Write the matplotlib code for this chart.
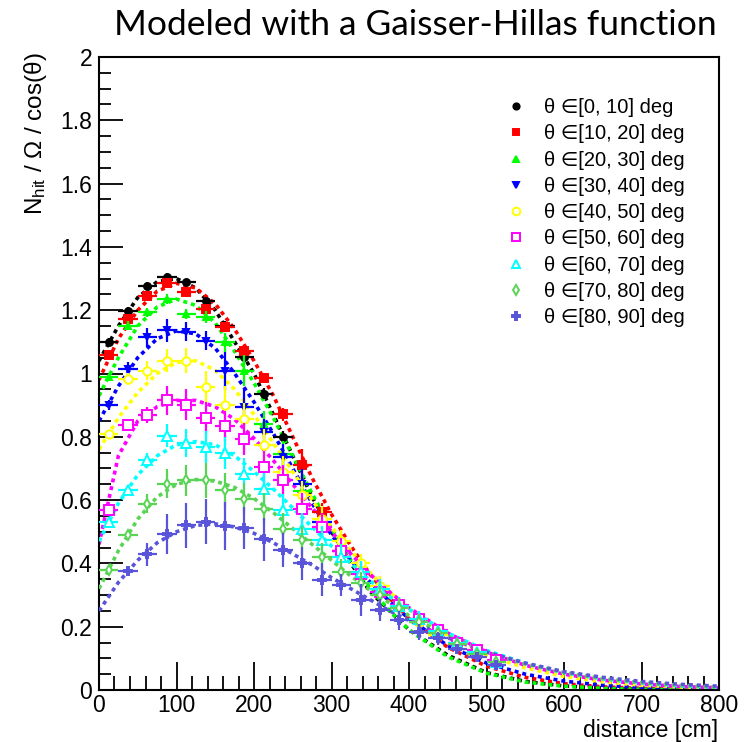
import numpy as np
import matplotlib
matplotlib.use("Agg")
import matplotlib.pyplot as plt
from matplotlib.lines import Line2D

plt.rcParams["font.family"] = ["Liberation Sans", "DejaVu Sans"]
plt.rcParams["mathtext.default"] = "regular"

# ---- measured points (bin centres in cm, 25 cm bins) ----
bin_centers = [12.5, 37.5, 62.5, 87.5, 112.5, 137.5, 162.5, 187.5, 212.5, 237.5, 262.5,
               287.5, 312.5, 337.5, 362.5, 387.5, 412.5, 437.5, 462.5, 487.5, 512.5]
nan = np.nan

y_00_10 = [1.10, 1.199, 1.278, 1.304, 1.288, 1.228, 1.151, 1.051, 0.936, 0.799]
e_00_10 = [0.012, 0.012, 0.012, 0.012, 0.012, 0.012, 0.015, 0.015, 0.018, 0.02]

y_10_20 = [1.06, 1.172, 1.246, 1.285, 1.257, 1.204, 1.146, 1.072, 0.985, 0.871, 0.71, 0.5625]
e_10_20 = [0.015, 0.015, 0.015, 0.015, 0.015, 0.015, 0.015, 0.015, 0.015, 0.02, 0.05, 0.027]

y_20_30 = [0.988, 1.151, 1.193, 1.236, 1.188, 1.178, 1.099, 1.009, 0.841, 0.747, 0.63]
e_20_30 = [0.012, 0.015, 0.015, 0.015, 0.015, 0.02, 0.03, 0.05, 0.04, 0.04, 0.04]

y_30_40 = [0.90, 1.015, 1.115, 1.136, 1.132, 1.104, 1.009, 0.894, 0.815, 0.736, 0.652, 0.531, 0.44]
e_30_40 = [0.015, 0.02, 0.03, 0.035, 0.03, 0.03, 0.06, 0.06, 0.04, 0.04, 0.045, 0.04, 0.035]

y_40_50 = [0.81, 0.983, 1.009, 1.041, 1.041, 0.957, 0.899, 0.857, 0.775, 0.688, 0.615,
           0.54, 0.47, 0.40, 0.33, 0.265, 0.215, 0.175, 0.145, 0.115, 0.09]
e_40_50 = [0.01, 0.02, 0.03, 0.035, 0.04, 0.05, 0.06, 0.05, 0.05, 0.05, 0.045,
           0.04, 0.035, 0.03, 0.03, 0.025, 0.02, 0.015, 0.012, 0.01, 0.01]

y_50_60 = [0.568, 0.836, 0.868, 0.915, 0.902, 0.86, 0.833, 0.794, 0.704, 0.662, 0.573,
           0.515, 0.44, 0.368, 0.31, 0.27, 0.225, 0.19, 0.15, 0.125, 0.095]
e_50_60 = [0.01, 0.015, 0.025, 0.045, 0.05, 0.05, 0.05, 0.05, 0.05, 0.05, 0.05,
           0.045, 0.04, 0.035, 0.03, 0.025, 0.02, 0.015, 0.012, 0.01, 0.01]

y_60_70 = [0.53, 0.631, 0.728, 0.804, 0.78, 0.768, 0.749, 0.683, 0.636, 0.568, 0.51,
           0.473, 0.42, 0.373, 0.32, 0.265, 0.225, 0.185, 0.15, 0.12, 0.09]
e_60_70 = [0.01, 0.012, 0.02, 0.035, 0.045, 0.05, 0.05, 0.05, 0.05, 0.05, 0.05,
           0.045, 0.04, 0.035, 0.03, 0.03, 0.025, 0.02, 0.015, 0.012, 0.01]

y_70_80 = [0.379, 0.49, 0.589, 0.652, 0.662, 0.662, 0.631, 0.605, 0.573, 0.51, 0.473,
           0.42, 0.373, 0.337, 0.30, 0.26, 0.215, 0.18, 0.145, 0.115, 0.09]
e_70_80 = [0.01, 0.012, 0.03, 0.045, 0.05, 0.055, 0.055, 0.05, 0.05, 0.05, 0.045,
           0.045, 0.04, 0.035, 0.03, 0.03, 0.025, 0.02, 0.015, 0.012, 0.01]

y_80_90 = [nan, 0.376, 0.429, 0.494, 0.52, 0.531, 0.517, 0.513, 0.476, 0.442, 0.40,
           0.349, 0.331, 0.284, 0.252, 0.221, 0.184, 0.163, 0.131, 0.105, 0.079]
e_80_90 = [0, 0.01, 0.037, 0.063, 0.07, 0.071, 0.076, 0.066, 0.068, 0.053, 0.053,
           0.053, 0.034, 0.05, 0.035, 0.03, 0.025, 0.02, 0.015, 0.012, 0.01]

# ---- Gaisser-Hillas fit curves ----
curve_x = [0, 25, 50, 75, 100, 125, 150, 175, 200, 225, 250, 275, 300, 325, 350, 375, 400,
           450, 500, 550, 600, 650, 700, 750, 800]
fit_00_10 = [1.04, 1.15, 1.24, 1.29, 1.30, 1.27, 1.20, 1.10, 1.00, 0.87, 0.74, 0.61, 0.50,
             0.40, 0.31, 0.25, 0.19, 0.11, 0.055, 0.027, 0.013, 0.006, 0.003, 0.001, 0.0]
fit_10_20 = [0.98, 1.11, 1.20, 1.26, 1.285, 1.27, 1.22, 1.14, 1.04, 0.93, 0.80, 0.67, 0.555,
             0.455, 0.365, 0.29, 0.225, 0.135, 0.075, 0.04, 0.02, 0.01, 0.005, 0.002, 0.001]
fit_20_30 = [0.93, 1.05, 1.15, 1.21, 1.235, 1.215, 1.16, 1.07, 0.97, 0.86, 0.74, 0.62, 0.51,
             0.41, 0.32, 0.25, 0.19, 0.105, 0.053, 0.025, 0.012, 0.005, 0.002, 0.001, 0.0]
fit_30_40 = [0.85, 0.96, 1.05, 1.11, 1.135, 1.125, 1.08, 1.00, 0.91, 0.81, 0.70, 0.59, 0.49,
             0.41, 0.34, 0.28, 0.225, 0.14, 0.085, 0.05, 0.028, 0.015, 0.008, 0.004, 0.002]
fit_40_50 = [0.76, 0.86, 0.94, 1.00, 1.035, 1.04, 1.01, 0.95, 0.87, 0.78, 0.69, 0.60, 0.515,
             0.44, 0.37, 0.31, 0.255, 0.17, 0.11, 0.07, 0.043, 0.026, 0.015, 0.009, 0.005]
fit_50_60 = [0.46, 0.74, 0.85, 0.895, 0.915, 0.915, 0.895, 0.855, 0.795, 0.725, 0.65, 0.575,
             0.50, 0.43, 0.365, 0.31, 0.26, 0.18, 0.12, 0.078, 0.05, 0.031, 0.019, 0.011, 0.007]
fit_60_70 = [0.47, 0.59, 0.68, 0.74, 0.775, 0.785, 0.775, 0.74, 0.69, 0.635, 0.575, 0.515,
             0.455, 0.40, 0.345, 0.295, 0.255, 0.18, 0.125, 0.085, 0.055, 0.035, 0.022, 0.013, 0.008]
fit_70_80 = [0.32, 0.44, 0.54, 0.61, 0.65, 0.665, 0.66, 0.64, 0.605, 0.56, 0.51, 0.46, 0.41,
             0.36, 0.315, 0.275, 0.235, 0.17, 0.12, 0.082, 0.055, 0.036, 0.023, 0.015, 0.009]
fit_80_90 = [0.25, 0.34, 0.41, 0.465, 0.50, 0.52, 0.525, 0.515, 0.495, 0.465, 0.43, 0.395,
             0.355, 0.32, 0.285, 0.25, 0.22, 0.165, 0.12, 0.085, 0.058, 0.04, 0.027, 0.018, 0.012]

labels = ["[0, 10]", "[10, 20]", "[20, 30]", "[30, 40]", "[40, 50]",
          "[50, 60]", "[60, 70]", "[70, 80]", "[80, 90]"]
points = [y_00_10, y_10_20, y_20_30, y_30_40, y_40_50, y_50_60, y_60_70, y_70_80, y_80_90]
errors = [e_00_10, e_10_20, e_20_30, e_30_40, e_40_50, e_50_60, e_60_70, e_70_80, e_80_90]
fits = [fit_00_10, fit_10_20, fit_20_30, fit_30_40, fit_40_50, fit_50_60, fit_60_70, fit_70_80, fit_80_90]

# ROOT colours 1..9 and marker styles
colors = ["#000000", "#ff0000", "#00ff00", "#0000ff", "#ffff00",
          "#ff00ff", "#00ffff", "#59d454", "#5954d9"]
markers = ["o", "s", "^", "v", "o", "s", "^", "d", "P"]
filled = [True, True, True, True, False, False, False, False, True]
msizes = [5, 5.5, 5, 5, 6, 6.5, 6.5, 5.5, 6]

fig = plt.figure(figsize=(7.55, 7.42), dpi=100)
ax = fig.add_axes([99 / 755, 1 - 690 / 742, 620 / 755, 633 / 742])

for i in range(9):
    xs = np.array(bin_centers[:len(points[i])])
    ys = np.array(points[i])
    es = np.array(errors[i])
    c = colors[i]
    ax.plot(curve_x, fits[i], color=c, lw=2.6, ls=(0, (1.1, 1.1)), zorder=2 + i * 0.1)
    ax.errorbar(xs, ys, xerr=12.5, yerr=es, fmt="none", ecolor=c, elinewidth=1.6,
                capsize=0, zorder=3 + i * 0.1)
    ax.plot(xs, ys, ls="none", marker=markers[i], ms=msizes[i], color=c,
            mfc=c if filled[i] else "white", mec=c, mew=1.4, zorder=3.05 + i * 0.1)

ax.set_xlim(0, 800)
ax.set_ylim(0, 2)
ax.set_xticks(np.arange(0, 801, 100))
ax.set_xticks(np.arange(0, 801, 20), minor=True)
ax.set_yticks(np.arange(0, 2.01, 0.2))
ax.set_yticks(np.arange(0, 2.01, 0.05), minor=True)
ax.set_yticklabels(["0", "0.2", "0.4", "0.6", "0.8", "1", "1.2", "1.4", "1.6", "1.8", "2"])
ax.tick_params(which="both", direction="in", top=False, right=False, labelsize=16.5,
               width=1.3, colors="black")
ax.tick_params(axis="x", which="major", length=20, pad=3)
ax.tick_params(axis="x", which="minor", length=10)
ax.tick_params(axis="y", which="major", length=17, pad=5)
ax.tick_params(axis="y", which="minor", length=8.5)
for s in ax.spines.values():
    s.set_linewidth(1.5)

fig.text(718 / 755, 1 - 730 / 742, "distance [cm]", ha="right", va="center", fontsize=16.5)
fig.text(36 / 755, 1 - 52 / 742, "N$_{hit}$ / \u03a9 / cos(\u03b8)", rotation=90,
         ha="center", va="top", fontsize=17.5)
fig.text(415 / 755, 1 - 25 / 742, "Modeled with a Gaisser-Hillas function",
         ha="center", va="center", fontsize=25.5, family=["Lato", "DejaVu Sans"])

handles = []
for i in range(9):
    handles.append(Line2D([], [], ls="none", marker=markers[i], ms=msizes[i] - 0.5,
                          color=colors[i], mfc=colors[i] if filled[i] else "white",
                          mec=colors[i], mew=1.4))
ax.legend(handles, ["\u03b8 \u2208" + l + " deg" for l in labels],
          loc="upper left", bbox_to_anchor=(496 / 755, 1 - 88 / 742),
          bbox_transform=fig.transFigure, frameon=False, fontsize=14.5,
          handlelength=1.0, handletextpad=0.9, labelspacing=0.36, borderpad=0)

fig.savefig("out.png", dpi=100)
